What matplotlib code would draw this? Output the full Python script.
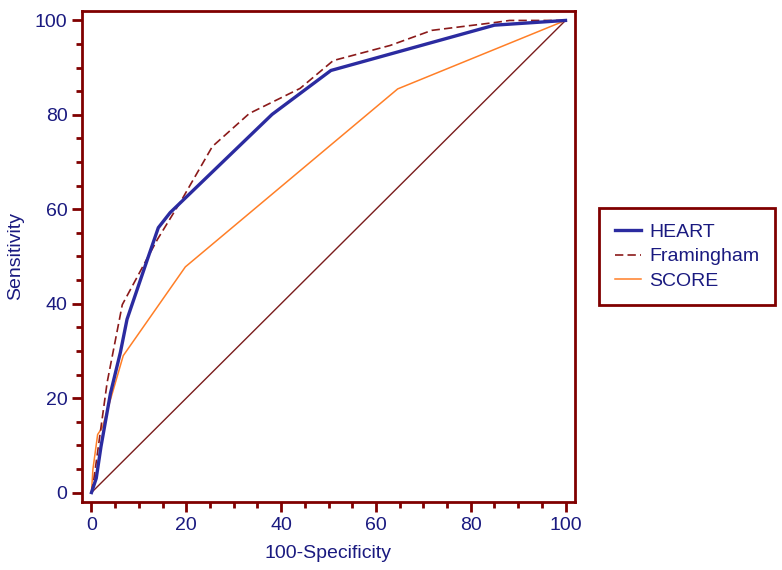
import numpy as np
import matplotlib.pyplot as plt
from matplotlib.ticker import MultipleLocator

# ROC curves
heart_x = [0, 1, 2, 4, 6.1, 7.5, 11.8, 14.1, 16.6, 38.1, 50.5, 85, 100]
heart_y = [0, 3, 9.7, 21, 29.7, 36.7, 49.4, 56.1, 59.3, 80.1, 89.4, 99, 100]

fram_x = [0, 0.5, 3.3, 6.5, 13.9, 19.2, 25.5, 33.3, 44, 51, 63, 71.8, 85.4, 88.2, 100]
fram_y = [0, 2.8, 23.3, 39.8, 53.6, 62.3, 73.3, 80.3, 85.6, 91.5, 94.7, 97.9, 99.6, 100, 100]

score_x = [0, 0.3, 1.3, 2.3, 6.7, 19.8, 64.6, 100]
score_y = [0, 4.9, 12.3, 13.8, 29, 47.8, 85.5, 100]

diag = [0, 100]

navy = '#1a1a80'
maroon = '#800000'

plt.rcParams['font.family'] = ['Liberation Sans', 'DejaVu Sans']

fig = plt.figure(figsize=(7.82, 5.70), dpi=100)
ax = fig.add_axes([82/782, 1-502/570, (575-82)/782, (502-11)/570])

ax.plot(diag, diag, color='#7a1c1c', lw=1.0)
ax.plot(score_x, score_y, color='#ff7f27', lw=1.1, label='SCORE')
ax.plot(fram_x, fram_y, color='#8b1a1a', lw=1.2, ls=(0, (5, 2.5)), label='Framingham')
ax.plot(heart_x, heart_y, color='#2b2ba0', lw=2.4, label='HEART')

ax.set_xlim(-2, 102)
ax.set_ylim(-2, 102)
ax.xaxis.set_major_locator(MultipleLocator(20))
ax.yaxis.set_major_locator(MultipleLocator(20))
ax.xaxis.set_minor_locator(MultipleLocator(5))
ax.yaxis.set_minor_locator(MultipleLocator(5))
ax.tick_params(which='major', length=7, width=2, color=maroon, labelcolor=navy, labelsize=14, direction='out')
ax.tick_params(which='minor', length=4, width=2, color=maroon, direction='out')
for s in ax.spines.values():
    s.set_color(maroon)
    s.set_linewidth(2)

ax.set_xlabel('100-Specificity', color=navy, fontsize=14, labelpad=8)
ax.set_ylabel('Sensitivity', color=navy, fontsize=14)
ax.yaxis.set_label_coords(-0.118, 0.5)

h, l = ax.get_legend_handles_labels()
leg = ax.legend(h[::-1], l[::-1], loc='upper left', bbox_to_anchor=(599/782, 1-208/570),
                bbox_transform=fig.transFigure, fancybox=False, framealpha=1,
                edgecolor=maroon, fontsize=14, handlelength=1.35, handletextpad=0.45,
                labelspacing=0.34, borderpad=0.8, borderaxespad=0)
leg.get_frame().set_linewidth(2)
for t in leg.get_texts():
    t.set_color(navy)

fig.savefig('out.png', dpi=100)
